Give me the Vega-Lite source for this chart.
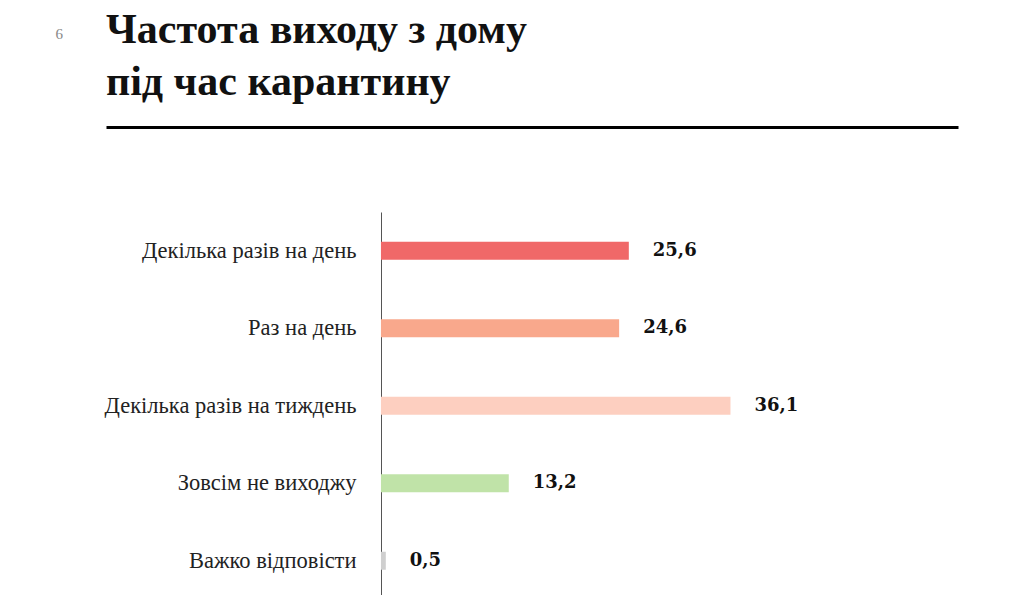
{
  "$schema": "https://vega.github.io/schema/vega-lite/v6.json",
  "width": 852,
  "height": 387.5,
  "autosize": {"type": "none"},
  "padding": {"left": 106, "top": 212, "right": 59, "bottom": 0},
  "background": "white",
  "config": {
    "view": {"stroke": null},
    "locale": {"number": {"decimal": ",", "thousands": " ", "grouping": [3], "currency": ["", ""]}}
  },
  "title": {
    "text": ["Частота виходу з дому", "під час карантину"],
    "anchor": "start",
    "frame": "group",
    "font": "Liberation Serif",
    "fontSize": 42,
    "fontWeight": "bold",
    "lineHeight": 52,
    "color": "#111111",
    "offset": -78
  },
  "data": {
    "values": [
      {"category": "Декілька разів на день", "value": 25.6},
      {"category": "Раз на день", "value": 24.6},
      {"category": "Декілька разів на тиждень", "value": 36.1},
      {"category": "Зовсім не виходжу", "value": 13.2},
      {"category": "Важко відповісти", "value": 0.5}
    ]
  },
  "encoding": {
    "y": {
      "field": "category",
      "type": "nominal",
      "sort": null,
      "scale": {"paddingInner": 0, "paddingOuter": 0},
      "axis": {
        "orient": "left",
        "offset": -275,
        "domain": true,
        "domainColor": "#555555",
        "domainWidth": 1,
        "ticks": false,
        "labelPadding": 25,
        "labelLimit": 400,
        "labelFont": "Liberation Serif",
        "labelFontSize": 22.5,
        "labelColor": "#222222",
        "title": "6",
        "titleAngle": 0,
        "titleX": -326,
        "titleY": -179,
        "titleAlign": "left",
        "titleBaseline": "middle",
        "titleFont": "Liberation Serif",
        "titleFontSize": 15,
        "titleFontWeight": "normal",
        "titleColor": "#888888"
      }
    },
    "x": {
      "field": "value",
      "type": "quantitative",
      "scale": {"domain": [-28.4, 59.6], "nice": false, "zero": false},
      "axis": {
        "orient": "top",
        "offset": 85,
        "domain": true,
        "domainColor": "#000000",
        "domainWidth": 3,
        "ticks": false,
        "labels": false,
        "grid": false,
        "title": null
      }
    }
  },
  "layer": [
    {
      "mark": {"type": "bar", "size": 18},
      "encoding": {
        "color": {
          "field": "category",
          "type": "nominal",
          "scale": {
            "domain": ["Декілька разів на день", "Раз на день", "Декілька разів на тиждень", "Зовсім не виходжу", "Важко відповісти"],
            "range": ["#F06868", "#F9A88C", "#FDCFC0", "#C0E3A8", "#CFCFCF"]
          },
          "legend": null
        }
      }
    },
    {
      "mark": {"type": "text", "align": "left", "baseline": "middle", "dx": 24, "font": "DejaVu Serif", "fontSize": 18, "fontWeight": "bold", "color": "#111111"},
      "encoding": {
        "text": {"field": "value", "type": "quantitative", "format": ".1f"}
      }
    }
  ]
}
